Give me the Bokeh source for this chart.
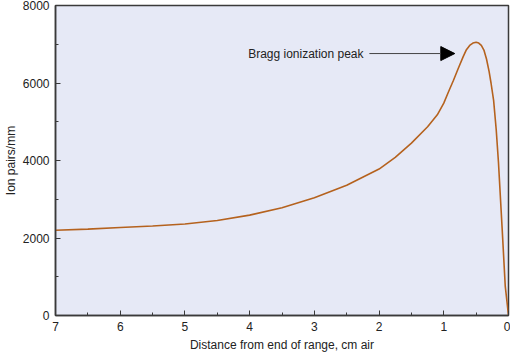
from bokeh.plotting import figure
from bokeh.models import Range1d, FixedTicker, Arrow, NormalHead, Label
from bokeh.embed import file_html
from bokeh.resources import INLINE

# Data
distance_cm = [7, 6.5, 6, 5.5, 5, 4.5, 4, 3.5, 3, 2.5, 2, 1.75, 1.5, 1.25, 1.1,
               1.0, 0.93, 0.85, 0.78, 0.7, 0.65, 0.6, 0.55, 0.5, 0.46, 0.42,
               0.38, 0.34, 0.3, 0.27, 0.23, 0.19, 0.155, 0.1, 0.05, 0.0]
ion_pairs = [2200, 2230, 2270, 2310, 2360, 2450, 2590, 2780, 3040, 3360, 3780,
             4080, 4450, 4870, 5180, 5480, 5760, 6070, 6360, 6680, 6860, 6970,
             7030, 7050, 7030, 6970, 6850, 6620, 6300, 6000, 5550, 4800, 3950,
             2300, 750, 0]
x_ticks = [0, 1, 2, 3, 4, 5, 6, 7]
x_minor = [0.5, 1.5, 2.5, 3.5, 4.5, 5.5, 6.5]
y_ticks = [0, 2000, 4000, 6000, 8000]
y_minor = [1000, 3000, 5000, 7000]
annotation_text = "Bragg ionization peak"
arrow_start = (2.15, 6760)
arrow_end = (0.83, 6760)

FONT = "Liberation Sans"
AX = "#3a3a3a"

p = figure(width=510, height=354, output_backend="svg", toolbar_location=None,
           x_range=Range1d(7, 0), y_range=Range1d(0, 8000),
           min_border_left=55, min_border_right=2, min_border_top=5,
           min_border_bottom=39)
p.background_fill_color = "#e6e9f6"
p.border_fill_color = "white"
p.outline_line_color = AX
p.outline_line_width = 1.5
p.grid.visible = False

p.line(distance_cm, ion_pairs, line_color="#b5621e", line_width=1.6)

for ax in (p.xaxis[0], p.yaxis[0]):
    ax.axis_line_color = AX
    ax.axis_line_width = 1.5
    ax.major_tick_line_color = AX
    ax.minor_tick_line_color = AX
    ax.major_tick_in = 5
    ax.major_tick_out = 0
    ax.minor_tick_in = 3
    ax.minor_tick_out = 0
    ax.major_label_text_font = FONT
    ax.major_label_text_font_size = "12px"
    ax.major_label_text_color = "#222222"
    ax.axis_label_text_font = FONT
    ax.axis_label_text_font_size = "12px"
    ax.axis_label_text_font_style = "normal"
    ax.axis_label_text_color = "#222222"

p.xaxis.ticker = FixedTicker(ticks=x_ticks, minor_ticks=x_minor)
p.yaxis.ticker = FixedTicker(ticks=y_ticks, minor_ticks=y_minor)
p.xaxis.axis_label = "Distance from end of range, cm air"
p.yaxis.axis_label = "Ion pairs/mm"
p.xaxis.major_label_standoff = 6
p.xaxis.axis_label_standoff = 4
p.yaxis.major_label_standoff = 6
p.yaxis.axis_label_standoff = 2

head = NormalHead(size=14, fill_color="black", line_color="black")
p.add_layout(Arrow(end=head, x_start=arrow_start[0], y_start=arrow_start[1],
                   x_end=arrow_end[0], y_end=arrow_end[1],
                   line_color="#444444", line_width=1))
p.add_layout(Label(x=arrow_start[0] + 0.09, y=arrow_start[1], text=annotation_text,
                   text_font=FONT, text_font_size="12px", text_color="#222222",
                   text_align="right", text_baseline="middle"))

open("out.html", "w").write(file_html(p, INLINE))
